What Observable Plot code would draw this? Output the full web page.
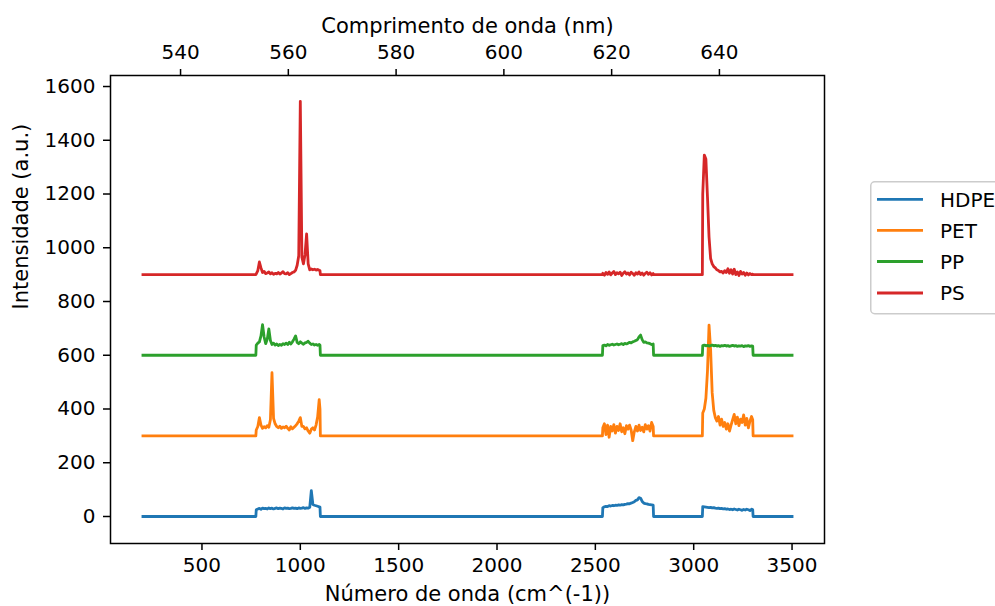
<!DOCTYPE html>
<html>
<head>
<meta charset="utf-8">
<script src="https://cdn.jsdelivr.net/npm/d3@7"></script>
<script src="https://cdn.jsdelivr.net/npm/@observablehq/plot@0.6"></script>
<style>
html, body { margin: 0; padding: 0; background: #fff; overflow: hidden; }
#wrap { position: relative; width: 995px; height: 606px; overflow: hidden; font-family: "DejaVu Sans", sans-serif; }
#legend { position: absolute; left: 870px; top: 181px; }
</style>
</head>
<body>
<div id="wrap"><div id="chart"></div><div id="legend"></div></div>
<script>
// ---- Data ----
const seriesNames = ["HDPE", "PET", "PP", "PS"];
const seriesColors = ["#1f77b4", "#ff7f0e", "#2ca02c", "#d62728"];

const wavenumber = [200, 774,
  776,784,792,800,808,816,824,832,840,848,856,864,872,880,888,896,904,912,920,928,936,944,952,960,968,976,984,992,1000,1008,1016,1024,1032,1040,1048,1056,1064,1072,1080,1088,1096,1100,
  1102, 2536,
  2538,2546,2554,2562,2570,2578,2586,2594,2602,2610,2618,2626,2634,2642,2650,2658,2666,2674,2682,2690,2698,2706,2714,2722,2730,2738,2746,2754,2762,2770,2778,2786,2794,
  2796, 3044,
  3046,3054,3062,3070,3078,3086,3094,3102,3110,3118,3126,3134,3142,3150,3158,3166,3174,3182,3190,3198,3206,3214,3222,3230,3238,3246,3254,3262,3270,3278,3286,3294,3300,
  3302, 3500];

const hdpe = [0, 0,
  25,28,30,27,31,29,30,28,32,29, 31,28,30,32,29,31,30,28,32,30, 31,29,30,32,30,31,29,32,30,31, 33,30,32,31,34, 96,45,42,40,38,36,35,
  0, 0,
  33,36,38,37,40,39,41,40,42,41, 43,42,44,43,45,46,48,47,50,52, 55,60,62,70,68,56,50,48,47,45, 44,43,42,
  0, 0,
  37,36,35,34,33,34,32,33,31,30, 31,29,30,28,29,27,28,26,27,25, 28,26,24,27,25,23,26,24,27,25, 22,27,26,
  0, 0];

const pet = [300, 300,
  322,335,368,340,328,334,330,338,332,360, 535,365,345,335,330,336,328,333,330,336, 328,322,334,326,332,338,345,355,368,335, 335,326,330,318,310,325,330,322,340,370, 435,400,
  300, 300,
  330,345,305,340,295,335,318,342,310,335, 320,345,315,330,308,338,325,340,322,282, 315,335,318,340,320,332,315,342,325,338, 318,350,335,
  300, 300,
  385,400,440,540,712,620,460,395,368,355, 372,340,362,335,350,325,345,318,340,360, 380,345,370,338,362,350,378,340,365,330, 355,372,360,
  300, 300];

const pp = [600, 600,
  638,645,650,672,714,668,643,660,698,655, 640,645,638,642,636,640,637,643,640,645, 640,648,642,650,660,672,648,643,650,645, 641,646,648,652,645,640,642,638,640,637, 640,638,
  600, 600,
  636,638,635,640,637,639,641,638,640,642, 639,641,643,640,644,642,645,648,646,650, 652,655,658,668,675,658,648,650,646,645, 643,640,642,
  600, 600,
  636,638,635,637,634,636,638,635,637,634, 636,633,636,635,637,634,636,633,635,637, 634,636,633,635,634,636,632,635,634,636, 633,635,634,
  600, 600];

const ps = [900, 900,
  903,915,947,925,908,912,904,906,910,903, 907,901,905,903,908,902,906,911,904,903, 907,900,904,908,910,916,935,970,1545,965, 940,975,1052,940,918,921,918,920,917,919, 916,915,
  900, 900,
  905,898,908,901,910,899,906,912,900,907, 903,909,897,905,911,902,906,899,909,904, 898,907,902,910,900,906,898,905,909,901, 907,899,904,
  900, 900,
  1200,1345,1330,1190,1040,960,940,930,925,918, 915,910,912,906,915,908,922,905,918,902, 920,900,910,897,912,902,908,898,906,899, 904,900,902,
  900, 900];

const xTicks = [500, 1000, 1500, 2000, 2500, 3000, 3500];
const yTicks = [0, 200, 400, 600, 800, 1000, 1200, 1400, 1600];
const wavelengthTicks = [540, 560, 580, 600, 620, 640];
const xDomain = [35, 3665];
const wavelengthLimits = [527.0, 659.5];
const yDomain = [-100.5, 1641];

const xLabel = "Número de onda (cm^(-1))";
const topLabel = "Comprimento de onda (nm)";
const yLabel = "Intensidade (a.u.)";

// ---- Build table ----
const seriesValues = [hdpe, pet, pp, ps];
const rows = [];
seriesNames.forEach((name, s) => {
  wavenumber.forEach((x, i) => rows.push({name, x, y: seriesValues[s][i]}));
});

const wl2wn = d3.scaleLinear().domain(wavelengthLimits).range(xDomain);
const topTickPositions = wavelengthTicks.map(wl2wn);

const font = "DejaVu Sans, sans-serif";
const chart = Plot.plot({
  width: 995,
  height: 606,
  marginLeft: 110,
  marginRight: 171,
  marginTop: 75,
  marginBottom: 63,
  style: {fontFamily: font, fontSize: "20px", background: "white", color: "black", overflow: "visible"},
  x: {domain: xDomain},
  y: {domain: yDomain},
  color: {domain: seriesNames, range: seriesColors},
  marks: [
    Plot.line(rows, {x: "x", y: "y", z: "name", stroke: "name", strokeWidth: 2.8, strokeLinejoin: "round", strokeLinecap: "square"}),
    Plot.frame({stroke: "black", strokeWidth: 1.5}),
    Plot.axisX({anchor: "bottom", ticks: xTicks, tickSize: 7, tickPadding: 7, fontSize: 20, label: null, strokeWidth: 1.5, tickFormat: d => String(d)}),
    Plot.axisX({anchor: "top", ticks: topTickPositions, tickSize: 7, tickPadding: 10, fontSize: 20, label: null, strokeWidth: 1.5,
      tickFormat: d => String(Math.round(wl2wn.invert(d)))}),
    Plot.axisY({anchor: "left", ticks: yTicks, tickSize: 7, tickPadding: 8, fontSize: 20, label: null, strokeWidth: 1.5, tickFormat: d => String(d)}),
    Plot.text([xLabel], {text: d => d, frameAnchor: "bottom", lineAnchor: "middle", dy: 51, fontSize: 21}),
    Plot.text([topLabel], {text: d => d, frameAnchor: "top", lineAnchor: "middle", dy: -49, fontSize: 21}),
    Plot.text([yLabel], {text: d => d, frameAnchor: "left", lineAnchor: "middle", dx: -89, rotate: -90, fontSize: 21})
  ]
});
document.getElementById("chart").appendChild(chart);

// ---- Legend (outside right, clipped by figure edge) ----
const lg = d3.select("#legend").append("svg")
  .attr("width", 140).attr("height", 136)
  .style("overflow", "visible");
lg.append("rect").attr("x", 0.75).attr("y", 0.75).attr("width", 160).attr("height", 132)
  .attr("rx", 4).attr("fill", "white").attr("fill-opacity", 0.8)
  .attr("stroke", "#cccccc").attr("stroke-width", 1.5);
const rowY = [18.3, 49.3, 80.5, 112];
seriesNames.forEach((name, i) => {
  lg.append("line").attr("x1", 7).attr("x2", 53).attr("y1", rowY[i]).attr("y2", rowY[i])
    .attr("stroke", seriesColors[i]).attr("stroke-width", 2.8);
  lg.append("text").attr("x", 70).attr("y", rowY[i]).attr("dy", "0.36em")
    .attr("font-family", font).attr("font-size", 20).attr("fill", "black").text(name);
});
</script>
</body>
</html>
